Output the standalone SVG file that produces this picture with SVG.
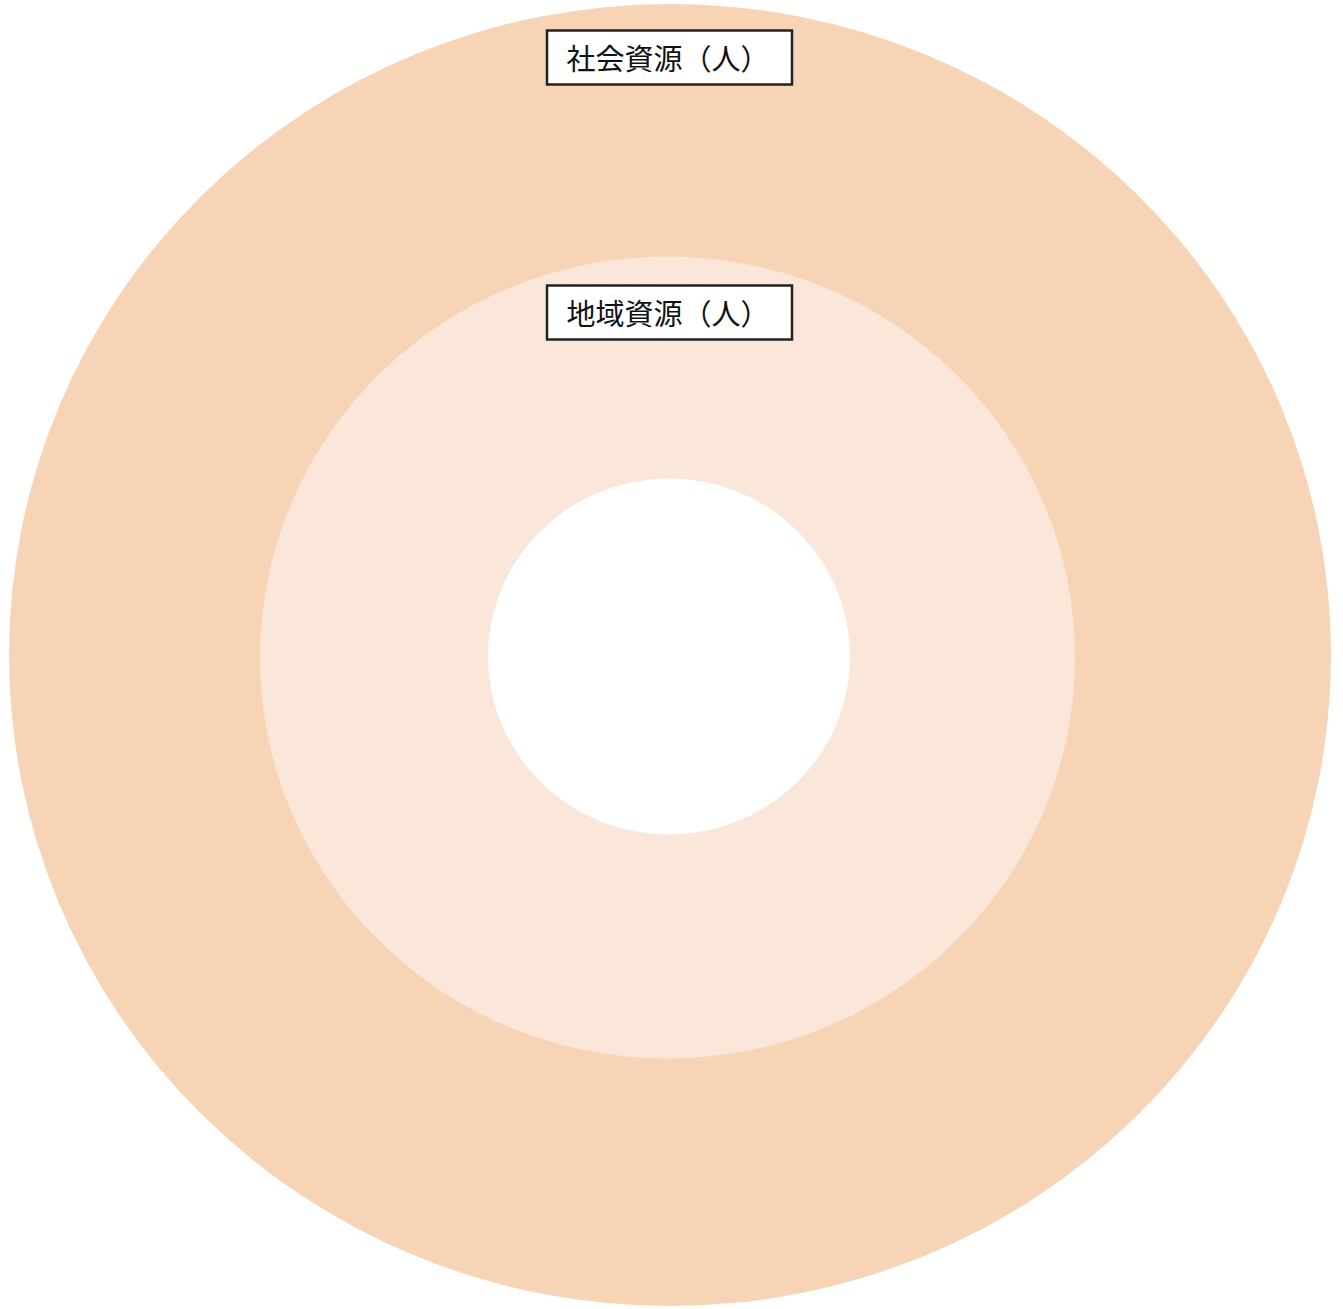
<svg xmlns="http://www.w3.org/2000/svg" width="1343" height="1309" viewBox="0 0 1343 1309">
<style>
.lbl rect{fill:#fff;stroke:#222;stroke-width:2.5}
.lbl text{font-family:"Noto Sans CJK JP","Liberation Sans",sans-serif;font-size:29px;fill:#111;text-anchor:middle;dominant-baseline:central}
</style>
<rect width="1343" height="1309" fill="#fff"/>
<g id="outer"><ellipse cx="670" cy="655" rx="661" ry="651" fill="#F7D4B5"/></g>
<g id="middle"><ellipse cx="667.5" cy="657.5" rx="407.5" ry="401" fill="#FBE7DA"/></g>
<g id="center"><ellipse cx="669" cy="656.5" rx="181" ry="178" fill="#fff"/></g>
<g id="label-social" class="lbl"><rect x="547" y="30.5" width="245" height="54"/><text x="668" y="57">社会資源（人）</text></g>
<g id="label-local" class="lbl"><rect x="547" y="285.5" width="245" height="54"/><text x="668" y="312">地域資源（人）</text></g>
<g id="connectors"/>
</svg>
